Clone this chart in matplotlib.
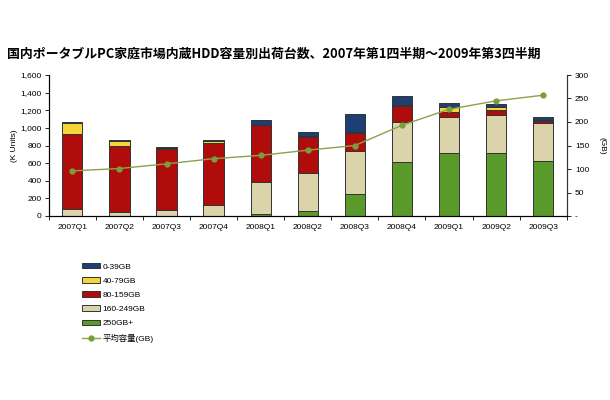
import numpy as np
import matplotlib
matplotlib.use("Agg")
import matplotlib.pyplot as plt
from matplotlib.ticker import FuncFormatter

plt.rcParams['font.family'] = ['Liberation Sans', 'Noto Sans CJK JP']

# quarters and shipments per capacity band (K units)
quarters = ['2007Q1', '2007Q2', '2007Q3', '2007Q4', '2008Q1', '2008Q2',
            '2008Q3', '2008Q4', '2009Q1', '2009Q2', '2009Q3']
gb_250_plus = [5, 0, 0, 0, 20, 60, 250, 610, 720, 710, 625]
gb_160_249 = [75, 50, 70, 130, 365, 430, 490, 460, 405, 440, 430]
gb_80_159 = [850, 740, 685, 700, 645, 410, 205, 180, 60, 50, 25]
gb_40_79 = [125, 65, 15, 25, 5, 5, 5, 10, 55, 40, 15]
gb_0_39 = [10, 10, 10, 5, 55, 50, 205, 100, 40, 30, 30]
avg_gb = [96, 101, 111, 122, 129, 140, 150, 193, 227, 245, 257]

series = [gb_250_plus, gb_160_249, gb_80_159, gb_40_79, gb_0_39]
labels = ['250GB+', '160-249GB', '80-159GB', '40-79GB', '0-39GB']
colors = ['#5a9a2a', '#dbd3aa', '#b00c0c', '#f5d63a', '#1d3f74']

fig = plt.figure(figsize=(6.1, 4), dpi=100)
ax = fig.add_axes([0.080, 0.46, 0.849, 0.3525])

x = np.arange(len(quarters))
bottom = np.zeros(len(quarters))
bars = []
for vals, lab, col in zip(series, labels, colors):
    b = ax.bar(x, vals, 0.43, bottom=bottom, color=col, edgecolor='#333333',
               linewidth=0.7, label=lab)
    bars.append(b)
    bottom += np.array(vals)

ax.set_xlim(-0.5, len(quarters) - 0.5)
ax.set_ylim(0, 1600)
ax.set_yticks(np.arange(0, 1601, 200))
ax.yaxis.set_major_formatter(FuncFormatter(lambda v, p: f'{int(v):,}'))
ax.set_xticks(x)
ax.set_xticklabels(quarters)
ax.set_xticks(np.arange(-0.5, len(quarters), 1), minor=True)
ax.tick_params(axis='x', which='major', length=0, labelsize=6, pad=6)
ax.tick_params(axis='x', which='minor', length=3, width=0.6)
ax.tick_params(axis='y', labelsize=6, length=3, width=0.6, pad=2)
ax.spines['top'].set_visible(False)
for s in ['left', 'bottom', 'right']:
    ax.spines[s].set_linewidth(0.8)
    ax.spines[s].set_color('#333333')
ax.set_ylabel('(K Units)', fontsize=6, labelpad=2)

ax2 = ax.twinx()
ax2.set_ylim(0, 300)
ax2.set_yticks(np.arange(0, 301, 50))
ax2.yaxis.set_major_formatter(FuncFormatter(lambda v, p: '-' if v == 0 else f'{int(v)}'))
ax2.tick_params(axis='y', labelsize=6, length=3, width=0.6, pad=3)
ax2.spines['top'].set_visible(False)
ax2.spines['right'].set_linewidth(0.8)
ax2.spines['right'].set_color('#333333')
line, = ax2.plot(x, avg_gb, color='#8aa24c', linewidth=1.0, marker='o',
                 markersize=3.5, markerfacecolor='#7a9e3a', markeredgecolor='#7a9e3a',
                 label='平均容量(GB)')
ax2.set_ylabel('(GB)', fontsize=6, rotation=270, labelpad=12)

fig.text(0.011, 0.855, '国内ポータブルPC家庭市場内蔵HDD容量別出荷台数、2007年第1四半期～2009年第3四半期',
         fontsize=9.3, fontweight='bold', family=['Noto Sans CJK JP', 'DejaVu Sans'])

handles = bars[::-1] + [line]
leg_labels = labels[::-1] + ['平均容量(GB)']
fig.legend(handles, leg_labels, loc='upper left', bbox_to_anchor=(0.134, 0.342),
           frameon=False, fontsize=6, labelspacing=0.78, handlelength=2.2,
           handleheight=0.6, handletextpad=0.3, borderpad=0, borderaxespad=0)

fig.savefig('out.png', dpi=100)
